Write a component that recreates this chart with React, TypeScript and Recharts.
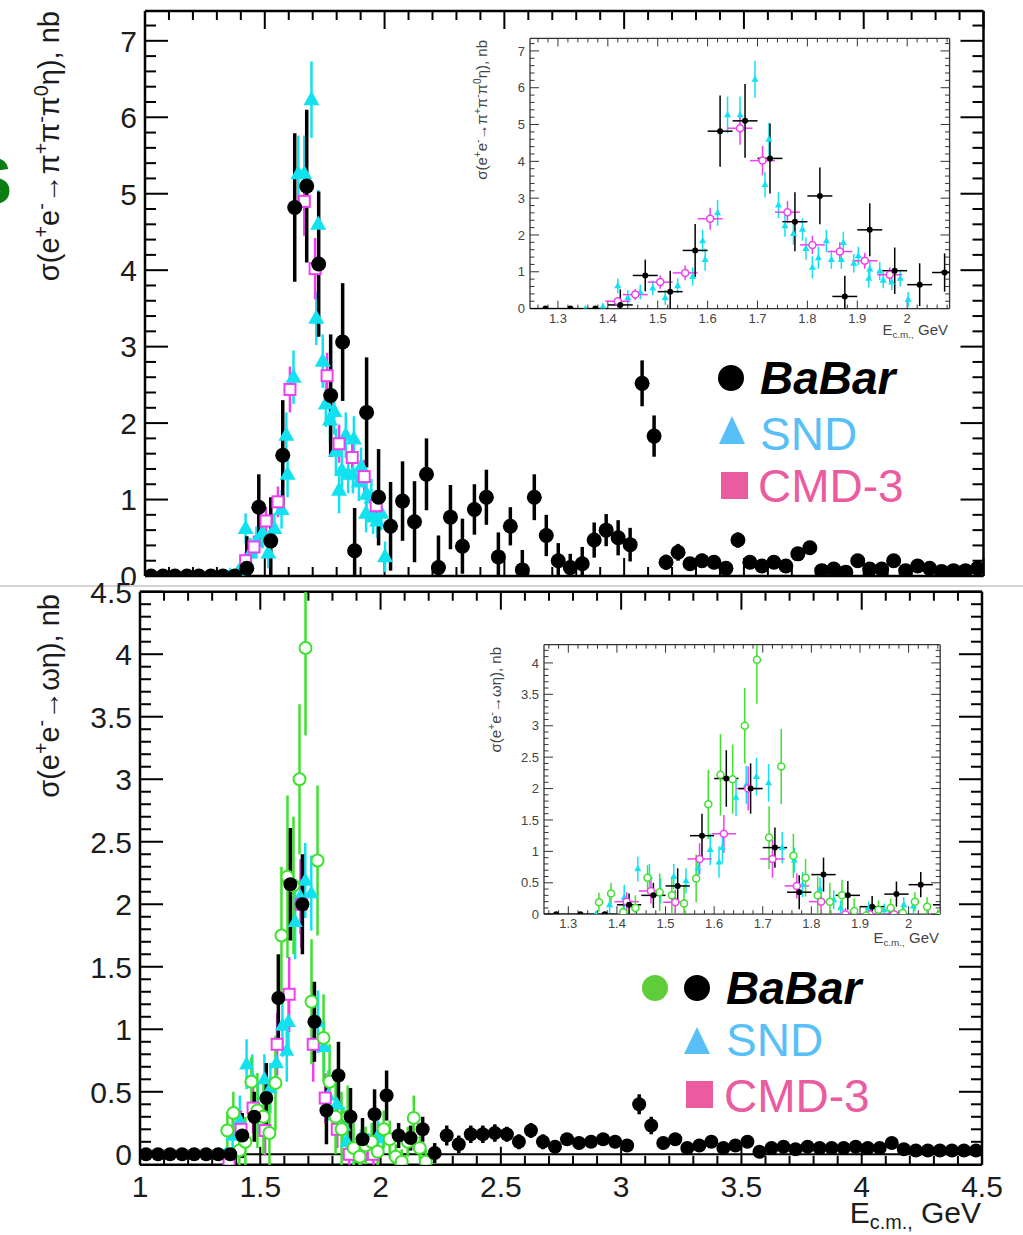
import React from 'react';
import { ScatterChart, Scatter, XAxis, YAxis, ErrorBar, ReferenceLine } from 'recharts';

// [E_cm (GeV), cross section (nb), error (nb)]
type Row = [number, number, number];

// e+e- -> pi+ pi- pi0 eta
const etaPiPiPiBabar: Row[] = [
  [1.025, 0, 0.03], [1.075, 0, 0.03], [1.125, 0, 0.03], [1.175, 0, 0.03], [1.225, 0, 0.03],
  [1.275, 0, 0.03], [1.325, 0, 0.03], [1.375, 0, 0.04], [1.425, 0.1, 0.42], [1.475, 0.9, 0.43],
  [1.525, 0.46, 0.57], [1.575, 1.58, 0.72], [1.625, 4.82, 0.97], [1.675, 5.1, 1.0], [1.725, 4.08, 0.95],
  [1.775, 2.36, 0.8], [1.825, 3.06, 0.77], [1.875, 0.33, 0.56], [1.925, 2.14, 0.72], [1.975, 1.03, 0.63],
  [2.025, 0.65, 0.58], [2.075, 0.98, 0.52], [2.125, 0.71, 0.53], [2.175, 1.33, 0.47], [2.225, 0.11, 0.42],
  [2.275, 0.77, 0.42], [2.325, 0.39, 0.36], [2.375, 0.87, 0.33], [2.425, 1.03, 0.36], [2.475, 0.25, 0.32],
  [2.525, 0.65, 0.25], [2.575, 0.08, 0.26], [2.625, 1.03, 0.3], [2.675, 0.53, 0.27], [2.725, 0.2, 0.23],
  [2.775, 0.11, 0.18], [2.825, 0.16, 0.22], [2.875, 0.47, 0.23], [2.925, 0.6, 0.21], [2.975, 0.5, 0.23],
  [3.025, 0.41, 0.22], [3.075, 2.52, 0.3], [3.125, 1.83, 0.27], [3.175, 0.18, 0.1], [3.225, 0.31, 0.11],
  [3.275, 0.16, 0.09], [3.325, 0.2, 0.09], [3.375, 0.18, 0.09], [3.425, 0.1, 0.08], [3.475, 0.47, 0.1],
  [3.525, 0.18, 0.08], [3.575, 0.13, 0.08], [3.625, 0.18, 0.08], [3.675, 0.13, 0.08], [3.725, 0.29, 0.09],
  [3.775, 0.37, 0.09], [3.825, 0.07, 0.06], [3.875, 0.09, 0.06], [3.925, 0.05, 0.06], [3.975, 0.2, 0.07],
  [4.025, 0.09, 0.06], [4.075, 0.09, 0.06], [4.125, 0.2, 0.07], [4.175, 0.07, 0.06], [4.225, 0.13, 0.06],
  [4.275, 0.1, 0.06], [4.325, 0.06, 0.05], [4.375, 0.07, 0.05], [4.425, 0.07, 0.05], [4.475, 0.1, 0.05],
];

const etaPiPiPiSnd: Row[] = [
  [1.355, 0, 0.05], [1.39, 0.05, 0.08], [1.42, 0.62, 0.2], [1.44, 0.3, 0.2], [1.465, 0.45, 0.2],
  [1.49, 0.56, 0.2], [1.515, 0.3, 0.2], [1.54, 0.62, 0.2], [1.57, 0.87, 0.25], [1.59, 1.84, 0.3],
  [1.595, 1.33, 0.3], [1.62, 2.6, 0.35], [1.64, 5.26, 0.5], [1.665, 5.26, 0.5], [1.695, 6.23, 0.5],
  [1.715, 3.37, 0.35], [1.723, 4.6, 0.45], [1.742, 2.81, 0.35], [1.755, 2.25, 0.3], [1.772, 2.04, 0.3],
  [1.79, 2.15, 0.3], [1.797, 1.63, 0.3], [1.81, 1.12, 0.3], [1.822, 1.38, 0.3], [1.838, 1.84, 0.3],
  [1.848, 1.33, 0.25], [1.868, 1.33, 0.25], [1.872, 1.79, 0.3], [1.893, 1.23, 0.25], [1.902, 1.43, 0.25],
  [1.923, 0.82, 0.25], [1.925, 1.07, 0.25], [1.945, 1.02, 0.25], [1.952, 0.77, 0.22], [1.969, 0.72, 0.22],
  [1.986, 0.82, 0.22], [2.002, 0.25, 0.2],
];

const etaPiPiPiCmd3: Row[] = [
  [1.42, 0.2, 0.12], [1.455, 0.38, 0.15], [1.505, 0.72, 0.18], [1.555, 0.97, 0.2], [1.605, 2.44, 0.3],
  [1.665, 4.9, 0.45], [1.71, 4.02, 0.4], [1.76, 2.62, 0.3], [1.81, 1.73, 0.25], [1.865, 1.55, 0.25],
  [1.915, 1.3, 0.22], [1.965, 0.92, 0.2],
];

// e+e- -> omega eta
const omegaEtaBabar: Row[] = [
  [1.025, 0, 0.02], [1.075, 0, 0.02], [1.125, 0, 0.02], [1.175, 0, 0.02], [1.225, 0, 0.02],
  [1.275, 0, 0.02], [1.325, 0, 0.02], [1.375, 0, 0.03], [1.425, 0.15, 0.18], [1.475, 0.3, 0.2],
  [1.525, 0.45, 0.28], [1.575, 1.25, 0.35], [1.625, 2.16, 0.45], [1.675, 2.0, 0.4], [1.725, 1.06, 0.32],
  [1.775, 0.35, 0.27], [1.825, 0.63, 0.27], [1.875, 0.3, 0.23], [1.925, 0.12, 0.17], [1.975, 0.32, 0.2],
  [2.025, 0.47, 0.2], [2.075, 0.15, 0.1], [2.125, 0.13, 0.1], [2.175, 0.2, 0.1], [2.225, 0.01, 0.08],
  [2.275, 0.15, 0.08], [2.325, 0.08, 0.07], [2.375, 0.16, 0.07], [2.425, 0.16, 0.07], [2.475, 0.17, 0.07],
  [2.525, 0.16, 0.06], [2.575, 0.1, 0.06], [2.625, 0.19, 0.06], [2.675, 0.1, 0.06], [2.725, 0.06, 0.05],
  [2.775, 0.12, 0.05], [2.825, 0.09, 0.05], [2.875, 0.1, 0.05], [2.925, 0.12, 0.05], [2.975, 0.1, 0.05],
  [3.025, 0.07, 0.05], [3.075, 0.4, 0.08], [3.125, 0.23, 0.07], [3.175, 0.09, 0.05], [3.225, 0.12, 0.05],
  [3.275, 0.05, 0.04], [3.325, 0.07, 0.04], [3.375, 0.1, 0.04], [3.425, 0.05, 0.04], [3.475, 0.07, 0.04],
  [3.525, 0.1, 0.04], [3.575, 0.02, 0.04], [3.625, 0.05, 0.04], [3.675, 0.06, 0.04], [3.725, 0.04, 0.04],
  [3.775, 0.06, 0.04], [3.825, 0.05, 0.04], [3.875, 0.05, 0.04], [3.925, 0.05, 0.04], [3.975, 0.06, 0.04],
  [4.025, 0.05, 0.04], [4.075, 0.05, 0.04], [4.125, 0.09, 0.04], [4.175, 0.04, 0.03], [4.225, 0.03, 0.03],
  [4.275, 0.03, 0.03], [4.325, 0.03, 0.03], [4.375, 0.03, 0.03], [4.425, 0.03, 0.03], [4.475, 0.03, 0.03],
];

// earlier BaBar measurement
const omegaEtaBabarOld: Row[] = [
  [1.363, 0.19, 0.15], [1.388, 0.33, 0.17], [1.413, 0.03, 0.12], [1.438, 0.1, 0.2], [1.463, 0.58, 0.2],
  [1.488, 0.35, 0.3], [1.513, 0.3, 0.3], [1.538, 0.17, 0.3], [1.563, 0.57, 0.38], [1.588, 1.75, 0.55],
  [1.613, 2.22, 0.65], [1.638, 2.15, 0.55], [1.663, 3.0, 0.6], [1.688, 4.05, 0.7], [1.713, 1.22, 0.5],
  [1.738, 2.35, 0.6], [1.763, 0.93, 0.35], [1.788, 0.58, 0.3], [1.813, 0.3, 0.3], [1.838, 0.2, 0.3],
  [1.863, 0.3, 0.25], [1.888, 0.05, 0.2], [1.913, -0.02, 0.15], [1.938, 0.07, 0.15], [1.963, 0.1, 0.15],
  [1.988, 0.02, 0.12], [2.013, 0.2, 0.15], [2.038, 0.12, 0.15], [2.063, -0.02, 0.1], [2.088, -0.06, 0.1],
  [2.113, 0.1, 0.12], [2.138, 0.29, 0.18], [2.163, 0.05, 0.1], [2.188, -0.06, 0.1],
];

const omegaEtaSnd: Row[] = [
  [1.357, 0, 0.05], [1.385, 0.15, 0.15], [1.415, 0.27, 0.2], [1.443, 0.72, 0.2], [1.467, 0.6, 0.2],
  [1.49, 0.37, 0.2], [1.517, 0.6, 0.2], [1.542, 0.53, 0.2], [1.567, 0.73, 0.2], [1.592, 1.03, 0.25],
  [1.61, 0.83, 0.25], [1.617, 1.06, 0.25], [1.645, 1.86, 0.3], [1.666, 2.06, 0.3], [1.687, 2.19, 0.3],
  [1.712, 2.09, 0.3], [1.74, 1.06, 0.25], [1.765, 0.86, 0.2], [1.782, 0.47, 0.2], [1.818, 0.4, 0.18],
  [1.846, 0.23, 0.15], [1.86, 0.1, 0.12], [1.889, 0, 0.1], [1.918, 0.1, 0.1], [1.95, 0.07, 0.1],
  [1.99, 0.15, 0.12], [2.01, 0.13, 0.12],
];

const omegaEtaCmd3: Row[] = [
  [1.37, -0.07, 0.1], [1.42, 0.2, 0.15], [1.47, 0.37, 0.2], [1.52, 0.19, 0.2], [1.57, 0.88, 0.25],
  [1.62, 1.28, 0.3], [1.67, 2.0, 0.35], [1.72, 0.88, 0.3], [1.77, 0.45, 0.2], [1.82, 0.2, 0.15],
  [1.87, 0.0, 0.1], [1.92, 0.0, 0.1], [1.97, 0.0, 0.1],
];

// axis ticks
const mainXMajor = [1, 1.5, 2, 2.5, 3, 3.5, 4, 4.5];
const topYMajor = [0, 1, 2, 3, 4, 5, 6, 7];
const bottomYMajor = [0, 0.5, 1, 1.5, 2, 2.5, 3, 3.5, 4, 4.5];
const insetXMajor = [1.3, 1.4, 1.5, 1.6, 1.7, 1.8, 1.9, 2];

const W = 1023;
const H = 1235;
const FONT = '"Liberation Sans", Arial, Helvetica, sans-serif';
const BIN_HALF = 0.025;

const C = {
  babar: '#000000',
  babarOld: '#3fe12f',
  snd: '#12e2ef',
  cmd3: '#f03ff0',
  sndLegend: '#58c0f6',
  cmd3Legend: '#ea5ba0',
  babarOldLegend: '#5fcc3a',
  label: '#1c1c1c',
  insetLabel: '#444444',
};

function range(a: number, b: number, step: number) {
  const out: number[] = [];
  const n = Math.round((b - a) / step);
  for (let i = 0; i <= n; i++) out.push(Math.round((a + i * step) * 1000) / 1000);
  return out;
}

const pts = (rows: Row[], ex = 0) => rows.map(([x, y, ey]) => ({ x, y, ey, ex }));

// marker shapes
const dot = (r: number, fill: string, stroke = 'none', sw = 0) => (p: any) => (
  <circle cx={p.cx} cy={p.cy} r={r} fill={fill} stroke={stroke} strokeWidth={sw} />
);
const tri = (s: number, fill: string) => (p: any) => {
  const h = s * 0.9;
  return (
    <polygon
      points={`${p.cx},${p.cy - h * 0.62} ${p.cx - s / 2},${p.cy + h * 0.38} ${p.cx + s / 2},${p.cy + h * 0.38}`}
      fill={fill}
    />
  );
};
const box = (s: number, stroke: string, sw: number) => (p: any) => (
  <rect x={p.cx - s / 2} y={p.cy - s / 2} width={s} height={s} fill="#fff" stroke={stroke} strokeWidth={sw} />
);

type Side = 'left' | 'right' | 'top' | 'bottom';
type LabelLook = { size: number; gap: number; color: string };

// ticks drawn inward from the frame, ROOT style
function tickMark(side: Side, majors: number[], len: [number, number], stroke: string, sw: number, label?: LabelLook) {
  return (p: any) => {
    const x = p.x as number;
    const y = p.y as number;
    const v = p.payload.value as number;
    const major = majors.some((m) => Math.abs(m - v) < 1e-6);
    const l = major ? len[0] : len[1];
    const dx = side === 'left' ? l : side === 'right' ? -l : 0;
    const dy = side === 'bottom' ? -l : side === 'top' ? l : 0;
    const text = String(Math.round(v * 1000) / 1000);
    return (
      <g>
        <line x1={x} y1={y} x2={x + dx} y2={y + dy} stroke={stroke} strokeWidth={sw} />
        {label && major && side === 'left' && (
          <text x={x - label.gap} y={y} dy="0.36em" textAnchor="end" fontSize={label.size} fill={label.color} fontFamily={FONT}>
            {text}
          </text>
        )}
        {label && major && side === 'bottom' && (
          <text x={x} y={y + label.gap} textAnchor="middle" fontSize={label.size} fill={label.color} fontFamily={FONT}>
            {text}
          </text>
        )}
      </g>
    );
  };
}

type FrameSpec = {
  xDomain: [number, number];
  yDomain: [number, number];
  xTicks: number[];
  yTicks: number[];
  xMajor: number[];
  yMajor: number[];
  xLen: [number, number];
  yLen: [number, number];
  stroke: string;
  tickWidth: number;
  frameWidth: number;
  xLabel?: LabelLook;
  yLabel?: LabelLook;
};

// every axis is 1px thick (an axis of size 0 is not drawn); margins take that pixel back
const AXIS_PX = 1;

function frameAxes(f: FrameSpec, scalesOnly = false) {
  const shared = {
    type: 'number' as const,
    allowDataOverflow: true,
    interval: 0 as const,
    tickSize: 0,
    tickMargin: 0,
    tickLine: false,
    axisLine: scalesOnly ? false : { stroke: f.stroke, strokeWidth: f.frameWidth },
  };
  const t = (side: Side, majors: number[], len: [number, number], label?: LabelLook) =>
    scalesOnly ? false : tickMark(side, majors, len, f.stroke, f.tickWidth, label);
  return [
    <XAxis key="xb" xAxisId="b" dataKey="x" orientation="bottom" height={AXIS_PX} domain={f.xDomain} ticks={f.xTicks}
      tick={t('bottom', f.xMajor, f.xLen, f.xLabel)} {...shared} />,
    <XAxis key="xt" xAxisId="t" dataKey="x" orientation="top" height={AXIS_PX} domain={f.xDomain} ticks={f.xTicks}
      tick={t('top', f.xMajor, f.xLen)} {...shared} />,
    <YAxis key="yl" yAxisId="l" dataKey="y" orientation="left" width={AXIS_PX} domain={f.yDomain} ticks={f.yTicks}
      tick={t('left', f.yMajor, f.yLen, f.yLabel)} {...shared} />,
    <YAxis key="yr" yAxisId="r" dataKey="y" orientation="right" width={AXIS_PX} domain={f.yDomain} ticks={f.yTicks}
      tick={t('right', f.yMajor, f.yLen)} {...shared} />,
  ];
}

type Box = { left: number; top: number; right: number; bottom: number };
const marginOf = (b: Box) => ({
  left: b.left - AXIS_PX,
  top: b.top - AXIS_PX,
  right: W - b.right - AXIS_PX,
  bottom: H - b.bottom - AXIS_PX,
});

const topBox: Box = { left: 145, top: 11, right: 983.5, bottom: 576 };
const bottomBox: Box = { left: 140, top: 591.7, right: 982, bottom: 1164.8 };
const topInsetBox: Box = { left: 530, top: 38.4, right: 949.6, bottom: 308.6 };
const bottomInsetBox: Box = { left: 544, top: 644.7, right: 940.2, bottom: 914.2 };

const layer: React.CSSProperties = { position: 'absolute', left: 0, top: 0 };

function series(
  key: string,
  rows: Row[],
  shape: (p: any) => React.ReactElement,
  color: string,
  barWidth: number,
  ex = 0,
) {
  return (
    <Scatter key={key} xAxisId="b" yAxisId="l" data={pts(rows, ex)} shape={shape} isAnimationActive={false}>
      <ErrorBar dataKey="ey" direction="y" width={0} stroke={color} strokeWidth={barWidth} isAnimationActive={false} />
      {ex > 0 && (
        <ErrorBar dataKey="ex" direction="x" width={0} stroke={color} strokeWidth={barWidth} isAnimationActive={false} />
      )}
    </Scatter>
  );
}

// frame + ticks in one chart; the data in a second chart with the same scales,
// cut to the frame by an overflow-hidden box
function Plot({ box, frame, children }: { box: Box; frame: FrameSpec; children: React.ReactNode }) {
  return (
    <>
      <ScatterChart width={W} height={H} margin={marginOf(box)} style={layer}>
        {frameAxes(frame)}
      </ScatterChart>
      <div
        style={{
          position: 'absolute',
          left: box.left,
          top: box.top,
          width: box.right - box.left,
          height: box.bottom - box.top,
          overflow: 'hidden',
        }}
      >
        <ScatterChart width={W} height={H} margin={marginOf(box)} style={{ position: 'absolute', left: -box.left, top: -box.top }}>
          {frameAxes(frame, true)}
          {children}
        </ScatterChart>
      </div>
    </>
  );
}

const mainFrame = { stroke: '#000', tickWidth: 2, frameWidth: 2.5 };
const insetFrame = { stroke: '#333', tickWidth: 1, frameWidth: 1.3 };

const topFrame: FrameSpec = {
  ...mainFrame,
  xDomain: [1, 4.5], yDomain: [0, 7.39],
  xTicks: range(1, 4.5, 0.1), yTicks: range(0, 7.2, 0.2),
  xMajor: mainXMajor, yMajor: topYMajor,
  xLen: [18, 9], yLen: [23, 11],
  yLabel: { size: 30, gap: 8, color: C.label },
};

const topInsetFrame: FrameSpec = {
  ...insetFrame,
  xDomain: [1.244, 2.085], yDomain: [0, 7.34],
  xTicks: range(1.26, 2.08, 0.02), yTicks: range(0, 7.2, 0.2),
  xMajor: insetXMajor, yMajor: topYMajor,
  xLen: [8, 4], yLen: [9, 4.5],
  xLabel: { size: 13, gap: 14, color: C.insetLabel },
  yLabel: { size: 13, gap: 5, color: C.insetLabel },
};

const bottomFrame: FrameSpec = {
  ...mainFrame,
  xDomain: [1, 4.5], yDomain: [-0.084, 4.5],
  xTicks: range(1, 4.5, 0.1), yTicks: range(0, 4.5, 0.1),
  xMajor: mainXMajor, yMajor: bottomYMajor,
  xLen: [18, 9], yLen: [23, 11],
  xLabel: { size: 30, gap: 32, color: C.label },
  yLabel: { size: 30, gap: 8, color: C.label },
};

const bottomInsetFrame: FrameSpec = {
  ...insetFrame,
  xDomain: [1.25, 2.065], yDomain: [0, 4.29],
  xTicks: range(1.26, 2.06, 0.02), yTicks: range(0, 4.2, 0.1),
  xMajor: insetXMajor, yMajor: bottomYMajor,
  xLen: [8, 4], yLen: [9, 4.5],
  xLabel: { size: 13, gap: 14, color: C.insetLabel },
  yLabel: { size: 13, gap: 5, color: C.insetLabel },
};

// text pieces: [string, raised?]; raised pieces are set as small superscripts
type Piece = [string, boolean];

function Pieces({ parts, size }: { parts: Piece[]; size: number }) {
  const shift = size * 0.38;
  let raised = false;
  return (
    <>
      {parts.map(([s, up], i) => {
        const dy = up && !raised ? -shift : !up && raised ? shift : 0;
        raised = up;
        return (
          <tspan key={i} dy={dy} fontSize={up ? size * 0.68 : size}>
            {s}
          </tspan>
        );
      })}
    </>
  );
}

const title3pi: Piece[] = [
  ['σ(e', false], ['+', true], ['e', false], ['-', true], ['→π', false], ['+', true], ['π', false], ['-', true],
  ['π', false], ['0', true], ['η), nb', false],
];
const titleOmega: Piece[] = [['σ(e', false], ['+', true], ['e', false], ['-', true], ['→ωη), nb', false]];

function YTitle({ x, y, size, color, parts }: { x: number; y: number; size: number; color: string; parts: Piece[] }) {
  return (
    <text transform={`translate(${x},${y}) rotate(-90)`} textAnchor="end" fontSize={size} fill={color} fontFamily={FONT}>
      <Pieces parts={parts} size={size} />
    </text>
  );
}

function EcmTitle({ x, y, size, color }: { x: number; y: number; size: number; color: string }) {
  return (
    <text x={x} y={y} textAnchor="end" fontSize={size} fill={color} fontFamily={FONT}>
      <tspan>E</tspan>
      <tspan fontSize={size * 0.66} dy={size * 0.2}>c.m.,</tspan>
      <tspan dy={-size * 0.2}> GeV</tspan>
    </text>
  );
}

function TopTexts() {
  return (
    <svg width={W} height={H} style={{ ...layer, pointerEvents: 'none' }}>
      <text x={-32} y={204} fontSize={66} fontWeight="bold" fill="#0b7d12" fontFamily={FONT}>S</text>
      <YTitle x={59} y={11} size={29} color={C.label} parts={title3pi} />
      <YTitle x={487} y={40} size={15} color={C.insetLabel} parts={title3pi} />
      <EcmTitle x={948} y={335} size={15} color={C.insetLabel} />

      <circle cx={731} cy={378} r={13} fill={C.babar} />
      <text x={760} y={394} fontSize={46} fontWeight="bold" fontStyle="italic" fill="#000" fontFamily={FONT}>BaBar</text>
      <polygon points="732,416 719,444 745,444" fill={C.sndLegend} />
      <text x={760} y={450} fontSize={46} fill={C.sndLegend} fontFamily={FONT}>SND</text>
      <rect x={721} y={472} width={27} height={27} fill={C.cmd3Legend} />
      <text x={758} y={502} fontSize={46} fill={C.cmd3Legend} fontFamily={FONT}>CMD-3</text>
    </svg>
  );
}

function BottomTexts() {
  return (
    <svg width={W} height={H} style={{ ...layer, pointerEvents: 'none' }}>
      <YTitle x={59} y={594} size={29} color={C.label} parts={titleOmega} />
      <YTitle x={501} y={647} size={15} color={C.insetLabel} parts={titleOmega} />
      <EcmTitle x={939} y={943} size={15} color={C.insetLabel} />
      <EcmTitle x={981} y={1223} size={30} color={C.label} />

      <circle cx={655} cy={988} r={13} fill={C.babarOldLegend} />
      <circle cx={697} cy={988} r={13} fill={C.babar} />
      <text x={726} y={1004} fontSize={46} fontWeight="bold" fontStyle="italic" fill="#000" fontFamily={FONT}>BaBar</text>
      <polygon points="697,1027 684,1054 710,1054" fill={C.sndLegend} />
      <text x={726} y={1056} fontSize={46} fill={C.sndLegend} fontFamily={FONT}>SND</text>
      <rect x={686} y={1081} width={27} height={27} fill={C.cmd3Legend} />
      <text x={724} y={1112} fontSize={46} fill={C.cmd3Legend} fontFamily={FONT}>CMD-3</text>
    </svg>
  );
}

export default function App() {
  return (
    <div style={{ position: 'absolute', left: 0, top: 0, width: W, height: H, background: '#fff', overflow: 'hidden' }}>
      <Plot box={topBox} frame={topFrame}>
        {series('snd', etaPiPiPiSnd, tri(16, C.snd), C.snd, 2.5)}
        {series('cmd3', etaPiPiPiCmd3, box(11, C.cmd3, 2), C.cmd3, 2.5)}
        {series('babar', etaPiPiPiBabar, dot(7.5, C.babar), C.babar, 3.5)}
      </Plot>
      <Plot box={topInsetBox} frame={topInsetFrame}>
        {series('snd', etaPiPiPiSnd, tri(7, C.snd), C.snd, 1.5)}
        {series('cmd3', etaPiPiPiCmd3, dot(3.5, '#fff', C.cmd3, 1.5), C.cmd3, 1.5, BIN_HALF)}
        {series('babar', etaPiPiPiBabar, dot(3, C.babar), C.babar, 1.5, BIN_HALF)}
      </Plot>
      <TopTexts />

      {/* lower figure sits on its own white sheet, overlapping the upper one */}
      <div style={{ position: 'absolute', left: 0, top: 585, width: W, height: H - 585, background: '#fff', borderTop: '2px solid #d4d4d4' }} />

      <Plot box={bottomBox} frame={bottomFrame}>
        <ReferenceLine xAxisId="b" yAxisId="l" y={0} stroke="#000" strokeWidth={2} />
        {series('snd', omegaEtaSnd, tri(15, C.snd), C.snd, 2.5)}
        {series('cmd3', omegaEtaCmd3, box(11, C.cmd3, 2), C.cmd3, 2.5)}
        {series('old', omegaEtaBabarOld, dot(6, '#fff', C.babarOld, 2), C.babarOld, 2.5)}
        {series('babar', omegaEtaBabar, dot(7, C.babar), C.babar, 3.5)}
      </Plot>
      <Plot box={bottomInsetBox} frame={bottomInsetFrame}>
        {series('snd', omegaEtaSnd, tri(7, C.snd), C.snd, 1.5)}
        {series('cmd3', omegaEtaCmd3, dot(3.5, '#fff', C.cmd3, 1.5), C.cmd3, 1.5, BIN_HALF)}
        {series('old', omegaEtaBabarOld, dot(3.5, '#fff', C.babarOld, 1.5), C.babarOld, 1.5)}
        {series('babar', omegaEtaBabar, dot(3, C.babar), C.babar, 1.5, BIN_HALF)}
      </Plot>
      <BottomTexts />
    </div>
  );
}
